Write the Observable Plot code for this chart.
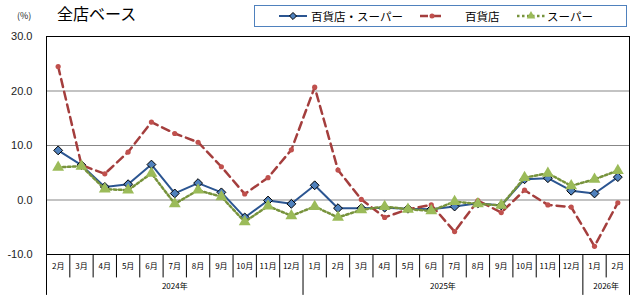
<!DOCTYPE html>
<html>
<head>
<meta charset="utf-8">
<script src="https://cdn.jsdelivr.net/npm/d3@7"></script>
<script src="https://cdn.jsdelivr.net/npm/@observablehq/plot@0.6"></script>
<style>
  html, body { margin: 0; padding: 0; background: #fff; }
  #wrap { position: relative; width: 640px; height: 300px; font-family: "Noto Sans CJK JP", sans-serif; }
  #wrap svg.plot { position: absolute; left: 0; top: 0; overflow: visible; }
  #unit { position: absolute; left: 17px; top: 9px; font-size: 9px; color: #222; }
  #title { position: absolute; left: 57px; top: 2px; font-size: 16px; color: #000; line-height: 22px; }
  #legend { position: absolute; left: 254px; top: 5px; width: 373px; height: 22px; border: 1px solid #4F81BD; box-sizing: border-box;
            font-size: 11.5px; }
  .sw { position: absolute; top: 4px; }
  .lt { position: absolute; top: 0; line-height: 20px; white-space: nowrap; }
</style>
</head>
<body>
<div id="wrap">
  <div id="unit">(%)</div>
  <div id="title">全店ベース</div>
  <div id="legend"></div>
</div>
<script>
// ---- data ----
const months = ["2月","3月","4月","5月","6月","7月","8月","9月","10月","11月","12月",
                "1月","2月","3月","4月","5月","6月","7月","8月","9月","10月","11月","12月",
                "1月","2月"];
const yearLabels = ["2024年","2025年","2026年"];
const seriesNames = ["百貨店・スーパー","百貨店","スーパー"];
const total = [9.1,6.4,2.4,2.9,6.5,1.2,3.1,1.4,-3.2,-0.1,-0.7,
               2.7,-1.5,-1.5,-1.4,-1.6,-1.7,-1.2,-0.6,-1.0,3.8,4.0,1.7,
               1.2,4.2];
const dept = [24.5,6.4,4.8,8.8,14.3,12.2,10.6,6.1,1.1,4.1,9.2,
              20.7,5.5,0.1,-3.2,-1.7,-0.9,-5.8,-0.1,-2.3,1.8,-0.9,-1.3,
              -8.5,-0.5];
const superm = [6.0,6.2,2.0,1.8,4.9,-0.7,1.8,0.6,-4.0,-1.1,-2.9,
                -1.2,-3.2,-1.8,-1.2,-1.7,-2.0,-0.3,-0.7,-1.0,4.1,4.9,2.6,
                3.8,5.4];
const yTicks = [-10, 0, 10, 20, 30];

// ---- derived ----
const idx = months.map((d, i) => i);
const yearOf = [];
let yi = 0;
months.forEach((m, i) => { if (i > 0 && m === "1月") yi++; yearOf.push(yi); });
const years = yearLabels.map((label, k) => {
  const members = idx.filter(i => yearOf[i] === k);
  return {label, start: members[0], end: members[members.length - 1]};
});
const yearBounds = [-0.5, ...years.map(y => y.end + 0.5)];
const monthBounds = d3.range(months.length + 1).map(i => i - 0.5).filter(b => !yearBounds.includes(b));

const styles = [
  {name: seriesNames[0], values: total, line: "#2B5591", width: 2, dash: null, symbol: "diamond2", r: 4, fill: "#4F81BD", stroke: "#000"},
  {name: seriesNames[1], values: dept, line: "#A43E3D", width: 2.5, dash: "8,5", symbol: "circle", r: 2.6, fill: "#C0504D", stroke: "none"},
  {name: seriesNames[2], values: superm, line: "#77933C", width: 2.5, dash: "2.5,2.5", symbol: "triangle", r: 4.4, fill: "#9BBB59", stroke: "none"}
];

const seriesMarks = [];
for (const s of styles) {
  const data = s.values.map((v, i) => ({i, v}));
  seriesMarks.push(Plot.line(data, {x: "i", y: "v", stroke: s.line, strokeWidth: s.width, strokeDasharray: s.dash ?? undefined, curve: "linear"}));
  seriesMarks.push(Plot.dot(data, {x: "i", y: "v", symbol: () => s.symbol, r: s.r, fill: s.fill, stroke: s.stroke, strokeWidth: 1}));
}

const chart = Plot.plot({
  width: 640,
  height: 300,
  marginLeft: 46,
  marginRight: 11,
  marginTop: 36,
  marginBottom: 46,
  style: {fontFamily: "'Noto Sans CJK JP', sans-serif", background: "transparent"},
  x: {domain: [-0.5, months.length - 0.5], axis: null},
  y: {domain: [-10, 30], axis: null},
  symbol: {type: "identity"},
  marks: [
    Plot.gridY([0, 10, 20], {stroke: "#878787", strokeOpacity: 1, strokeWidth: 1}),
    Plot.frame({stroke: "#000", strokeWidth: 1}),
    Plot.text(yTicks, {x: -0.5, y: d => d, text: d => d.toFixed(1), textAnchor: "end", dx: -14, fontSize: 11, fill: "#222", fontFamily: "'Liberation Sans', Arial, sans-serif"}),
    Plot.ruleX(monthBounds, {x: d => d, y1: -10, y2: -14.3, stroke: "#000", strokeWidth: 1}),
    Plot.ruleX(yearBounds, {x: d => d, y1: -10, y2: -17.5, stroke: "#000", strokeWidth: 1}),
    Plot.text(months, {x: (d, i) => i, y: -10, dy: 12, text: d => d, fontSize: 8, fill: "#000"}),
    Plot.text(years, {x: d => (d.start + d.end) / 2, y: -10, dy: 32, text: "label", fontSize: 8, fill: "#000"}),
    ...seriesMarks
  ]
});
chart.classList.add("plot");
document.getElementById("wrap").prepend(chart);

// ---- legend ----
const legend = d3.select("#legend");
const swLeft = [23, 164, 261];
const txLeft = [56, 210, 292];
const swLen = [30, 26, 30];
styles.forEach((s, k) => {
  const L = swLen[k];
  const sv = legend.append("svg").attr("class", "sw").style("left", swLeft[k] + "px").attr("width", L).attr("height", 12);
  sv.append("line").attr("x1", 1).attr("x2", L - 1).attr("y1", 6).attr("y2", 6)
    .attr("stroke", s.line).attr("stroke-width", s.width).attr("stroke-dasharray", s.dash ?? null);
  sv.append("path").attr("transform", `translate(${L / 2},6)`)
    .attr("d", d3.symbol(s.symbol === "diamond2" ? d3.symbolDiamond2 : s.symbol === "circle" ? d3.symbolCircle : d3.symbolTriangle,
                         s.symbol === "circle" ? 20 : 32)())
    .attr("fill", s.fill).attr("stroke", s.stroke === "none" ? null : s.stroke).attr("stroke-width", 1);
  legend.append("div").attr("class", "lt").style("left", txLeft[k] + "px").text(s.name);
});
</script>
</body>
</html>
